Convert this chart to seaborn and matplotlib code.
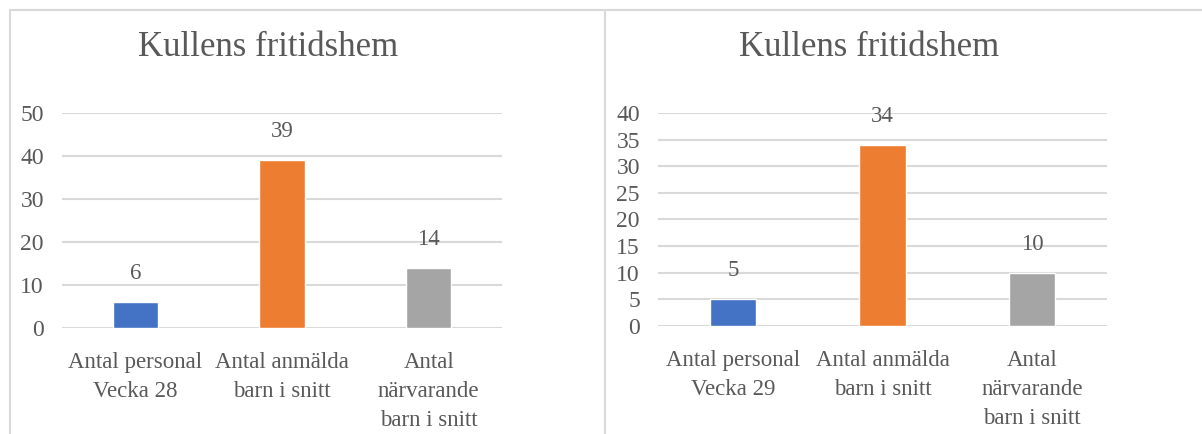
import matplotlib
matplotlib.use('Agg')
import matplotlib.pyplot as plt
import seaborn as sns
import pandas as pd
from matplotlib.lines import Line2D

# Data
title = 'Kullens fritidshem'
labels_w28 = ['Antal personal\nVecka 28', 'Antal anmälda\nbarn i snitt', 'Antal\nnärvarande\nbarn i snitt']
values_w28 = [6, 39, 14]
labels_w29 = ['Antal personal\nVecka 29', 'Antal anmälda\nbarn i snitt', 'Antal\nnärvarande\nbarn i snitt']
values_w29 = [5, 34, 10]
colors = ['#4472C4', '#ED7D31', '#A5A5A5']

sns.set_theme(style='white')
plt.rcParams['font.family'] = ['Liberation Serif', 'DejaVu Serif']
text_color = '#595959'
grid_color = '#D9D9D9'

W, H = 1202, 434
fig = plt.figure(figsize=(W / 100, H / 100), dpi=100)


def px_axes(x0, x1, ytop, ybot):
    return fig.add_axes([x0 / W, 1 - ybot / H, (x1 - x0) / W, (ybot - ytop) / H])


def draw_panel(ax, labels, values, ymax, step, title_x):
    df = pd.DataFrame({'cat': labels, 'val': values})
    sns.barplot(data=df, x='cat', y='val', hue='cat', palette=colors,
                width=0.31, legend=False, ax=ax, saturation=1)
    ax.set_xlim(-0.5, 2.5)
    ax.set_ylim(0, ymax)
    ax.set_yticks(range(0, ymax + 1, step))
    ax.yaxis.grid(True, color=grid_color, linewidth=1.5)
    ax.set_axisbelow(True)
    for s in ax.spines.values():
        s.set_visible(False)
    ax.set_xlabel('')
    ax.set_ylabel('')
    ax.tick_params(axis='y', length=0, pad=13, labelsize=17, labelcolor=text_color)
    ax.tick_params(axis='x', length=0, pad=17, labelsize=16.5, labelcolor=text_color)
    for t in ax.get_xticklabels():
        t.set_linespacing(1.5)
        t.set_verticalalignment('top')
    for c in ax.containers:
        ax.bar_label(c, padding=13, fontsize=16.5, color=text_color)
    fig.text(title_x / W, 1 - 47 / H, title, fontsize=25, color=text_color,
             ha='center', va='center')


ax1 = px_axes(62, 502, 113, 328)
draw_panel(ax1, labels_w28, values_w28, 50, 10, 268)

ax2 = px_axes(658, 1107, 113, 326)
draw_panel(ax2, labels_w29, values_w29, 40, 5, 869)

# chart frames
for x in (9.5, 605):
    fig.add_artist(Line2D([x / W, x / W], [0, 1 - 9.5 / H], color=grid_color, linewidth=1.5))
fig.add_artist(Line2D([9.5 / W, 1], [1 - 9.5 / H, 1 - 9.5 / H], color=grid_color, linewidth=1.5))

fig.savefig('out.png', dpi=100, facecolor='white')
